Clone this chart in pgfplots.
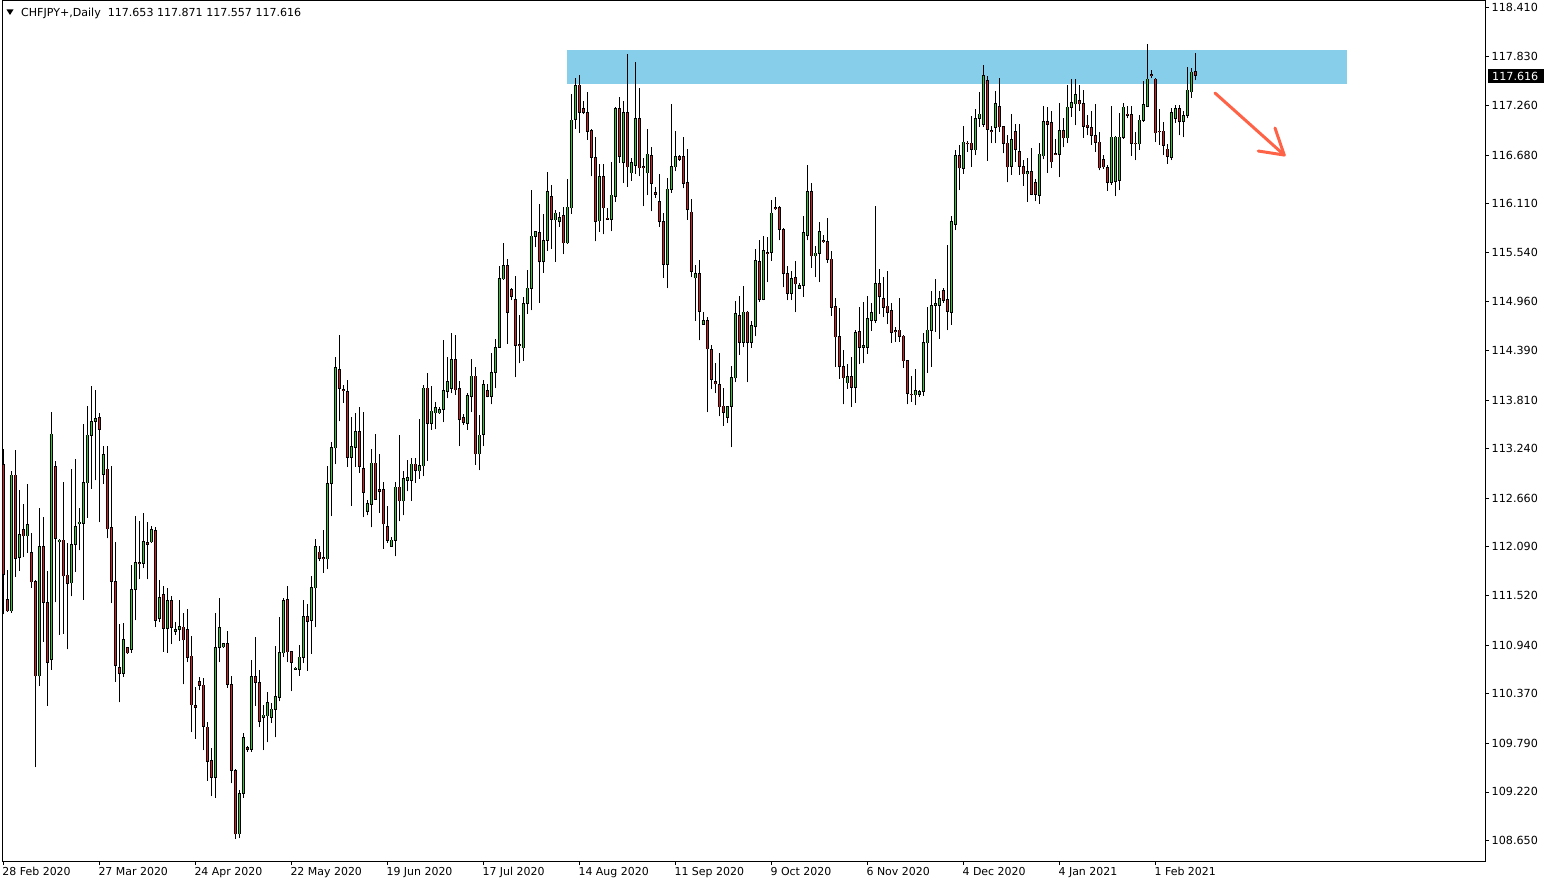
\documentclass[border=0pt]{standalone}
\usepackage{fontspec}
\setmainfont{DejaVu Sans}
\usepackage{pgfplots}
\usepackage{pgfplotstable}
\pgfplotsset{compat=1.18}

\definecolor{bull}{RGB}{40,205,40}
\definecolor{bear}{RGB}{215,30,30}
\definecolor{zone}{RGB}{135,206,235}
\definecolor{arrowred}{RGB}{255,99,71}

% daily candles, bar index i (6 bars a week), prices
\pgfplotstableread{
i O H L C
0 113.05 113.24 111.30 111.77
1 111.47 111.82 111.33 111.34
2 111.34 112.98 111.32 112.93
3 112.93 113.23 111.74 111.96
4 111.97 112.76 111.81 112.23
5 112.29 112.59 111.97 112.22
6 112.22 112.83 112.02 112.35
7 112.02 112.25 111.61 111.68
8 111.68 111.70 109.51 110.58
9 110.58 112.55 110.46 112.09
10 112.09 112.44 110.98 111.44
11 111.44 111.81 110.23 110.74
12 110.77 113.67 110.65 113.41
13 113.03 113.10 111.44 112.19
14 112.15 112.18 111.06 112.17
15 112.17 112.85 111.07 111.75
16 111.76 112.14 110.89 111.66
17 111.67 113.00 111.51 112.12
18 112.12 113.12 111.80 112.33
19 112.36 112.55 112.05 112.38
20 112.37 113.53 111.47 112.84
21 112.84 113.74 112.43 113.40
22 113.40 113.97 112.77 113.56
23 113.56 113.93 112.87 113.59
24 113.60 113.66 112.38 113.47
25 112.94 113.27 112.83 113.17
26 113.00 113.27 112.19 112.30
27 112.32 113.04 111.43 111.69
28 111.68 112.15 110.51 110.70
29 110.68 111.19 110.27 110.61
30 110.61 111.20 110.57 111.00
31 110.91 110.92 110.84 110.85
32 110.89 111.88 110.85 111.59
33 111.59 112.45 111.23 111.91
34 111.91 112.39 111.71 111.89
35 111.90 112.49 111.84 112.15
36 112.14 112.38 111.71 112.12
37 112.15 112.34 112.14 112.29
38 112.28 112.32 111.15 111.23
39 111.25 111.70 111.21 111.50
40 111.53 111.63 110.86 111.14
41 111.14 111.61 110.85 111.46
42 111.46 111.52 110.95 111.15
43 111.10 111.21 111.06 111.12
44 111.12 111.47 110.99 111.16
45 111.15 111.32 110.48 111.00
46 111.12 111.36 110.74 110.80
47 110.81 111.05 109.92 110.24
48 110.23 110.45 109.84 110.21
49 110.51 110.57 110.41 110.47
50 110.47 110.55 109.71 109.99
51 109.98 110.04 109.35 109.58
52 109.59 109.73 109.17 109.39
53 109.39 111.32 109.15 110.91
54 110.91 111.49 110.74 111.14
55 110.92 110.97 110.91 110.96
56 110.96 111.10 110.44 110.48
57 110.48 110.58 109.32 109.47
58 109.47 109.49 108.67 108.73
59 108.73 109.24 108.68 109.20
60 109.20 109.91 109.15 109.86
61 109.74 109.76 109.69 109.72
62 109.72 110.77 109.69 110.57
63 110.57 111.03 110.23 110.50
64 110.50 110.65 109.98 110.05
65 110.09 110.24 109.71 110.12
66 110.11 110.39 109.80 110.27
67 110.09 110.26 110.03 110.19
68 110.19 110.93 109.86 110.34
69 110.33 111.27 110.28 110.85
70 110.85 111.49 110.80 111.46
71 111.47 111.63 110.74 110.86
72 110.86 110.87 110.40 110.74
73 110.66 110.68 110.65 110.67
74 110.66 110.94 110.58 110.80
75 110.80 111.47 110.73 111.27
76 111.27 111.42 110.64 111.22
77 111.23 111.75 110.84 111.61
78 111.61 112.18 111.15 112.09
79 112.03 112.10 111.92 111.96
80 111.96 112.29 111.79 111.95
81 111.95 113.04 111.83 112.83
82 112.83 113.32 112.45 113.25
83 113.25 114.31 113.06 114.19
84 114.17 114.57 113.56 113.95
85 113.93 113.99 113.78 113.92
86 113.91 114.05 113.03 113.14
87 113.14 113.61 112.57 113.26
88 113.26 113.66 113.03 113.44
89 113.44 113.73 112.96 113.03
90 113.01 113.67 112.44 112.73
91 112.51 112.64 112.46 112.60
92 112.59 113.24 112.32 113.07
93 113.07 113.41 112.64 112.65
94 112.76 113.18 112.49 112.74
95 112.76 112.85 112.07 112.36
96 112.33 112.57 112.14 112.17
97 112.10 112.21 112.09 112.17
98 112.17 112.85 111.98 112.79
99 112.79 113.40 112.39 112.63
100 112.63 112.98 112.46 112.89
101 112.87 113.11 112.74 112.90
102 112.87 113.13 112.63 113.06
103 113.06 113.13 112.84 112.99
104 112.98 113.59 112.89 113.04
105 113.04 113.99 112.92 113.95
106 113.95 114.13 113.10 113.54
107 113.54 113.97 113.46 113.68
108 113.66 113.79 113.47 113.72
109 113.66 113.73 113.65 113.70
110 113.70 114.51 113.55 113.92
111 113.91 114.31 113.83 114.03
112 113.95 114.60 113.89 114.28
113 114.28 114.57 113.87 113.93
114 113.94 114.03 113.27 113.58
115 113.60 113.65 113.52 113.55
116 113.54 113.89 113.46 113.86
117 113.85 114.29 113.67 114.09
118 114.09 114.20 113.05 113.18
119 113.18 113.64 112.99 113.40
120 113.41 114.05 113.27 113.99
121 113.92 114.00 113.84 113.85
122 113.85 114.36 113.76 114.13
123 114.13 114.53 113.95 114.42
124 114.43 115.38 114.42 115.23
125 115.23 115.65 115.22 115.38
126 115.38 115.46 114.47 114.84
127 115.10 115.12 114.98 115.02
128 114.99 115.26 114.08 114.45
129 114.46 114.81 114.24 114.45
130 114.42 115.02 114.27 114.94
131 114.94 115.33 114.82 115.12
132 115.12 116.27 114.86 115.73
133 115.73 115.79 115.60 115.78
134 115.77 116.11 114.95 115.43
135 115.43 115.99 115.30 115.68
136 115.68 116.48 115.56 116.25
137 116.19 116.33 115.58 115.93
138 115.92 116.04 115.43 116.00
139 115.90 116.01 115.84 115.95
140 115.97 116.07 115.52 115.65
141 115.65 116.40 115.64 116.07
142 116.06 117.39 115.99 117.09
143 117.10 117.58 116.99 117.49
144 117.50 117.62 116.94 117.18
145 117.22 117.31 117.16 117.18
146 117.18 117.42 116.86 116.96
147 116.97 116.99 116.43 116.65
148 116.65 116.89 115.67 115.90
149 115.91 116.58 115.78 116.43
150 116.43 116.58 115.75 116.06
151 115.94 116.06 115.92 115.93
152 115.93 116.60 115.79 116.21
153 116.20 117.24 116.13 117.22
154 117.22 117.36 116.59 116.66
155 116.59 117.31 116.35 117.18
156 117.18 117.86 116.31 116.54
157 116.47 116.65 116.38 116.59
158 116.56 117.77 116.46 117.11
159 117.11 117.47 116.43 116.53
160 116.54 116.65 116.08 116.53
161 116.47 116.99 116.21 116.69
162 116.67 116.77 116.02 116.35
163 116.24 116.31 116.18 116.22
164 116.13 116.46 115.84 115.90
165 115.90 116.00 115.24 115.40
166 115.40 116.41 115.12 116.28
167 116.28 117.28 116.24 116.54
168 116.54 116.96 116.49 116.66
169 116.66 116.68 116.61 116.63
170 116.66 116.89 116.29 116.35
171 116.36 116.75 115.92 116.04
172 116.01 116.17 115.25 115.32
173 115.24 115.39 114.74 115.29
174 115.29 115.45 114.51 114.85
175 114.70 114.84 114.69 114.74
176 114.74 114.78 113.67 114.41
177 114.40 114.45 113.94 114.05
178 114.03 114.24 113.89 114.00
179 113.99 114.36 113.62 113.73
180 113.74 113.95 113.51 113.67
181 113.61 113.74 113.54 113.73
182 113.74 114.21 113.26 114.07
183 114.07 114.97 114.02 114.82
184 114.80 115.03 114.34 114.49
185 114.49 115.15 114.43 114.84
186 114.84 114.85 114.02 114.49
187 114.49 114.74 114.42 114.68
188 114.67 115.58 114.56 115.44
189 115.43 115.68 114.96 114.99
190 114.99 115.73 114.98 115.56
191 115.54 115.72 115.19 115.53
192 115.54 116.15 115.44 116.00
193 116.06 116.19 116.04 116.05
194 116.06 116.08 115.68 115.81
195 115.81 115.82 115.13 115.29
196 115.29 115.38 114.98 115.06
197 115.06 115.32 114.98 115.23
198 115.24 115.44 114.84 115.17
199 115.12 115.18 115.11 115.15
200 115.15 115.97 115.02 115.77
201 115.74 116.56 115.68 116.25
202 116.25 116.35 115.36 115.50
203 115.50 115.61 115.25 115.53
204 115.53 115.90 115.19 115.78
205 115.68 115.74 115.65 115.67
206 115.67 115.94 115.42 115.46
207 115.46 115.56 114.80 114.90
208 114.90 115.00 114.20 114.55
209 114.55 114.89 114.06 114.20
210 114.20 114.40 113.76 114.07
211 114.01 114.23 113.94 114.08
212 114.08 114.31 113.73 113.96
213 113.96 114.63 113.78 114.60
214 114.61 114.90 114.23 114.43
215 114.43 114.96 114.24 114.45
216 114.43 115.03 114.35 114.76
217 114.74 114.95 114.62 114.83
218 114.74 116.08 114.71 115.17
219 115.17 115.35 114.82 115.02
220 115.00 115.25 114.78 114.90
221 114.91 115.32 114.70 114.84
222 114.86 114.95 114.48 114.60
223 114.62 114.67 114.49 114.61
224 114.63 115.00 114.49 114.56
225 114.56 114.57 114.19 114.27
226 114.27 114.28 113.76 113.89
227 113.88 114.09 113.79 113.87
228 113.87 114.17 113.75 113.92
229 113.88 113.93 113.85 113.91
230 113.91 114.60 113.86 114.48
231 114.48 114.90 114.13 114.63
232 114.63 115.09 114.20 114.92
233 114.92 115.23 114.61 114.94
234 114.92 115.09 114.53 115.00
235 115.09 115.12 114.95 114.98
236 114.99 115.63 114.63 114.85
237 114.84 115.97 114.69 115.90
238 115.87 116.74 115.80 116.67
239 116.67 116.80 116.27 116.53
240 116.52 117.02 116.46 116.83
241 116.82 116.84 116.72 116.81
242 116.82 117.14 116.54 116.75
243 116.74 117.22 116.68 117.11
244 117.11 117.42 117.01 117.16
245 117.04 117.73 117.01 117.61
246 117.55 117.61 116.61 116.98
247 116.97 117.02 116.82 116.96
248 117.00 117.43 116.82 117.28
249 117.25 117.58 116.95 117.01
250 117.01 117.02 116.70 116.82
251 116.82 116.91 116.36 116.54
252 116.55 117.16 116.45 116.86
253 116.95 117.04 116.60 116.75
254 116.72 117.04 116.45 116.55
255 116.54 116.62 116.32 116.46
256 116.46 116.65 116.13 116.49
257 116.49 116.76 116.21 116.22
258 116.36 116.40 116.14 116.22
259 116.21 116.82 116.11 116.69
260 116.67 117.25 116.63 117.07
261 117.07 117.24 116.47 117.04
262 117.06 117.20 116.53 116.60
263 116.70 116.87 116.68 116.69
264 116.69 117.29 116.42 116.97
265 116.97 117.11 116.77 116.88
266 116.88 117.50 116.82 117.24
267 117.24 117.57 117.13 117.29
268 117.28 117.57 117.03 117.39
269 117.32 117.50 117.20 117.28
270 117.28 117.44 116.88 117.02
271 117.03 117.15 116.91 117.00
272 117.00 117.20 116.80 116.91
273 116.91 117.28 116.72 116.83
274 116.83 116.95 116.50 116.53
275 116.63 116.68 116.52 116.54
276 116.53 116.56 116.26 116.36
277 116.36 117.25 116.33 116.89
278 116.37 116.90 116.20 116.89
279 116.38 117.17 116.27 116.89
280 116.89 117.29 116.87 117.24
281 117.16 117.25 117.11 117.14
282 117.15 117.25 116.67 116.82
283 116.82 116.95 116.62 116.81
284 116.81 117.15 116.74 117.09
285 117.09 117.55 117.07 117.27
286 117.25 117.98 117.24 117.57
287 117.62 117.68 117.58 117.61
288 117.57 117.58 116.83 116.94
289 116.96 117.22 116.80 116.95
290 116.96 117.07 116.68 116.79
291 116.75 116.81 116.58 116.66
292 116.65 117.23 116.62 117.18
293 117.11 117.27 117.06 117.22
294 117.22 117.27 116.91 117.07
295 117.07 117.20 116.89 117.14
296 117.14 117.71 117.11 117.44
297 117.42 117.70 117.35 117.65
298 117.653 117.871 117.557 117.616
}\candles

% helper columns for the bodies: outline start/length, inner start, bull/bear inner length
\pgfplotstablecreatecol[expr={min(\thisrow{O},\thisrow{C})-0.006}]{bb}{\candles}
\pgfplotstablecreatecol[expr={abs(\thisrow{C}-\thisrow{O})+0.012}]{bh}{\candles}
\pgfplotstablecreatecol[expr={min(\thisrow{O},\thisrow{C})+0.003}]{ib}{\candles}
\pgfplotstablecreatecol[expr={(\thisrow{C}>\thisrow{O}) ? max(abs(\thisrow{C}-\thisrow{O})-0.006,0) : 0}]{gh}{\candles}
\pgfplotstablecreatecol[expr={(\thisrow{C}<\thisrow{O}) ? max(abs(\thisrow{C}-\thisrow{O})-0.006,0) : 0}]{rh}{\candles}
\pgfplotstablecreatecol[expr={\thisrow{H}-\thisrow{L}}]{wh}{\candles}

\pgfplotsset{
  candle/.style={only marks, mark=*, mark size=0pt, mark options={draw=none, fill=none},
    error bars/.cd, y dir=plus, y explicit, error mark=none},
}

\begin{document}
\begin{tikzpicture}
\path[use as bounding box] (-2.5bp,-23bp) rectangle (1547.5bp,861bp);
\begin{axis}[
    scale only axis,
    width=1482.5bp, height=860.5bp,
    at={(0,0)}, anchor=south west,
    xmin=-0.2, xmax=370.4,
    ymin=108.411, ymax=118.490,
    axis line style={line width=0.8bp},
    tick align=outside,
    major tick length=4bp,
    tick style={black, line width=0.8bp},
    xtick pos=left,
    ytick pos=right,
    yticklabel pos=right,
    xtick={0,24,...,288},
    xticklabels={28 Feb 2020,27 Mar 2020,24 Apr 2020,22 May 2020,19 Jun 2020,17 Jul 2020,14 Aug 2020,11 Sep 2020,9 Oct 2020,6 Nov 2020,4 Dec 2020,4 Jan 2021,1 Feb 2021},
    xticklabel style={font=\fontsize{11}{12}\selectfont, anchor=north west, inner sep=0pt, xshift=-1bp, yshift=-2bp},
    ytick={108.65,109.22,109.79,110.37,110.94,111.52,112.09,112.66,113.24,113.81,114.39,114.96,115.54,116.11,116.68,117.26,117.83,118.41},
    yticklabel style={font=\fontsize{11.2}{12}\selectfont, anchor=west, inner sep=0pt, xshift=2.5bp,
        /pgf/number format/fixed, /pgf/number format/fixed zerofill,
        /pgf/number format/precision=3, /pgf/number format/1000 sep={}},
    /pgf/number format/assume math mode=true,
]
% resistance zone
\addplot[fill=zone, draw=none] coordinates {(140.9,117.515) (335.9,117.515) (335.9,117.910) (140.9,117.910)} -- cycle;

% wicks
\addplot[candle, error bar style={draw=black, line width=1bp}]
    table[x=i, y=L, y error plus=wh] {\candles};
% body outline
\addplot[candle, error bar style={draw=black, line width=3.2bp}]
    table[x=i, y=bb, y error plus=bh] {\candles};
% bull fill
\addplot[candle, error bar style={draw=bull, line width=1.6bp}]
    table[x=i, y=ib, y error plus=gh] {\candles};
% bear fill
\addplot[candle, error bar style={draw=bear, line width=1.6bp}]
    table[x=i, y=ib, y error plus=rh] {\candles};

% arrow
\addplot[arrowred, line width=3bp, line cap=round] coordinates {(302.9,117.406) (320.2,116.680)};
\addplot[arrowred, line width=3bp, line cap=round, line join=round] coordinates {(313.7,116.727) (320.2,116.680) (317.9,116.996)};
\end{axis}

% title line
\fill[black] (4bp,851.5bp) -- (11bp,851.5bp) -- (7.5bp,846bp) -- cycle;
\node[anchor=base west, inner sep=0pt, font=\fontsize{11.1}{12}\selectfont] at (18.5bp,844.5bp)
    {CHFJPY+,Daily\ \ 117.653 117.871 117.557 117.616};
% current price tag
\fill[black] (1485.5bp,778bp) rectangle (1541bp,792bp);
\node[anchor=west, inner sep=0pt, text=white, font=\fontsize{11.2}{12}\selectfont] at (1489.5bp,785bp) {117.616};
\end{tikzpicture}
\end{document}
